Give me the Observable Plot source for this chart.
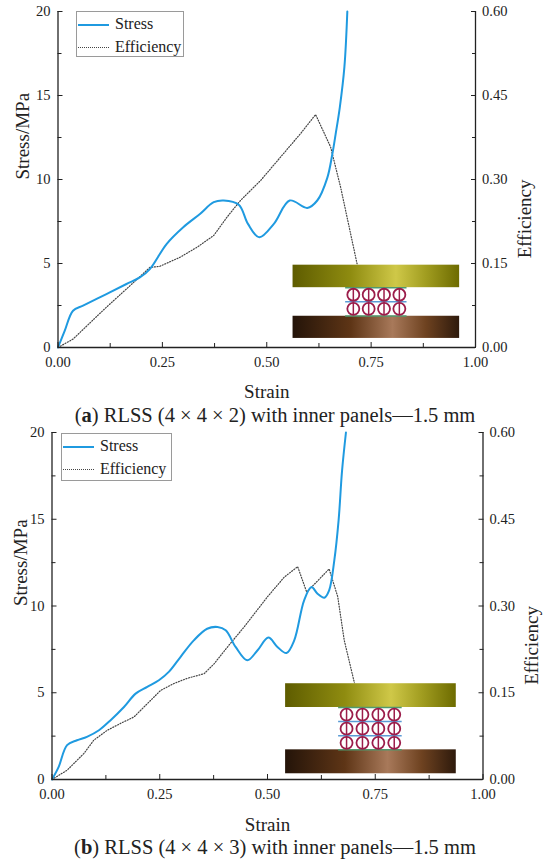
<!DOCTYPE html>
<html>
<head>
<meta charset="utf-8">
<script src="https://cdn.jsdelivr.net/npm/d3@7"></script>
<script src="https://cdn.jsdelivr.net/npm/@observablehq/plot@0.6"></script>
<style>
  html, body { margin: 0; padding: 0; background: #fff; }
  #root { position: relative; width: 550px; height: 865px; font-family: "Liberation Serif", serif; color: #222; }
  #root svg { font-family: "Liberation Serif", serif !important; font-size: 14.5px !important; }
  #root svg text, #root svg g { font-family: "Liberation Serif", serif !important; }
  .panel { position: absolute; left: 0; }
  .legend { position: absolute; border: 1px solid #9a9a9a; background: #fff; box-sizing: border-box; font-size: 16px; font-family: "Liberation Serif", serif; }
  .legend .row { position: absolute; left: 0; height: 20px; line-height: 20px; }
  .legend .sw { position: absolute; left: 1px; width: 31px; top: 10px; }
  .legend .lab { position: absolute; left: 38px; top: 0; white-space: nowrap; }
  .cap { position: absolute; left: 0; width: 550px; text-align: center; font-size: 20.5px; line-height: 20px; }
</style>
</head>
<body>
<div id="root"></div>
<script>
// ---------- data ----------
// Panel (a): RLSS (4×4×2)
const strainStressA = [0,0.016,0.036,0.06,0.116,0.164,0.196,0.22,0.26,0.3,0.34,0.373,0.397,0.433,0.455,0.482,0.517,0.555,0.597,0.621,0.645,0.657,0.665,0.675,0.686,0.693];
const stressA       = [0,0.99,2.19,2.49,3.18,3.78,4.17,4.67,6.16,7.16,7.95,8.65,8.75,8.5,7.36,6.56,7.36,8.75,8.31,8.75,10.1,11.5,12.7,14.3,16.7,20];
const strainEffA    = [0,0.036,0.116,0.172,0.22,0.244,0.292,0.333,0.373,0.405,0.437,0.485,0.533,0.581,0.617,0.653,0.677,0.713,0.725];
const effA          = [0,0.015,0.072,0.11,0.143,0.145,0.161,0.179,0.2,0.233,0.2625,0.298,0.34,0.382,0.416,0.358,0.286,0.161,0.12];
// Panel (b): RLSS (4×4×3)
const strainStressB = [0,0.0155,0.035,0.058,0.081,0.109,0.136,0.167,0.194,0.221,0.248,0.271,0.298,0.329,0.36,0.384,0.403,0.426,0.453,0.477,0.502,0.523,0.544,0.562,0.585,0.602,0.616,0.632,0.643,0.655,0.665,0.673,0.682];
const stressB       = [0,0.73,1.98,2.26,2.46,2.84,3.42,4.18,4.95,5.34,5.72,6.2,7.06,8.02,8.69,8.79,8.6,7.64,6.87,7.45,8.18,7.64,7.29,8.02,10.33,11.09,10.71,10.48,10.9,12.63,14.95,17.8,20];
const strainEffB    = [0,0.035,0.074,0.097,0.128,0.159,0.19,0.221,0.252,0.283,0.314,0.353,0.376,0.407,0.446,0.5,0.539,0.57,0.591,0.643,0.663,0.678,0.702,0.712];
const effB          = [0,0.016,0.045,0.068,0.085,0.097,0.108,0.131,0.154,0.166,0.175,0.183,0.2,0.229,0.264,0.316,0.35,0.368,0.324,0.364,0.316,0.241,0.166,0.13];

// tick labels
const xTicks = [0, 0.25, 0.5, 0.75, 1];
const xMinor = [0.125, 0.375, 0.625, 0.875];
const yTicks = [0, 5, 10, 15, 20];
const yMinor = [2.5, 7.5, 12.5, 17.5];
const effMax = 0.6, stressMax = 20;
const effPerStress = effMax / stressMax;

// inset picture geometry (strain / stress units): plates and lattice
const insetA = {plateX: [0.563, 0.962], top: [3.56, 4.9], bottom: [0.54, 1.86], latX: [0.689, 0.836], latY: [1.88, 3.56], rows: 2, cols: 4};
const insetB = {plateX: [0.542, 0.938], top: [4.15, 5.52], bottom: [0.33, 1.71], latX: [0.665, 0.8125], latY: [1.71, 4.15], rows: 3, cols: 4};

const captions = [
  ["a", "RLSS (4 × 4 × 2) with inner panels—1.5 mm"],
  ["b", "RLSS (4 × 4 × 3) with inner panels—1.5 mm"]
];

const SERIF = "Liberation Serif";
const STRESS_COLOR = "#1f9ae0";
const EFF_COLOR = "#444";

function makePanel(cfg) {
  const S = cfg.strainS.map((x, i) => ({x, y: cfg.stress[i]}));
  const E = cfg.strainE.map((x, i) => ({x, y: cfg.eff[i] / effPerStress}));
  const ins = cfg.inset;
  const cells = [];
  for (let r = 0; r < ins.rows; r++) for (let c = 0; c < ins.cols; c++) {
    cells.push({
      x: ins.latX[0] + (c + 0.5) * (ins.latX[1] - ins.latX[0]) / ins.cols,
      y: ins.latY[0] + (r + 0.5) * (ins.latY[1] - ins.latY[0]) / ins.rows,
      h: (ins.latY[1] - ins.latY[0]) / ins.rows
    });
  }
  const innerLines = d3.range(1, ins.rows).map(r => ins.latY[0] + r * (ins.latY[1] - ins.latY[0]) / ins.rows);
  const gid = cfg.gid;
  const svg = Plot.plot({
    width: 550, height: cfg.height,
    marginTop: cfg.mt, marginBottom: cfg.mb, marginLeft: cfg.ml, marginRight: cfg.mr,
    style: {fontFamily: "'Liberation Serif', serif", fontSize: "14.5px", color: "#222", background: "transparent", overflow: "visible"},
    x: {domain: [0, 1]},
    y: {domain: [0, stressMax]},
    marks: [
      Plot.line(E, {x: "x", y: "y", stroke: EFF_COLOR, strokeWidth: 1.2, strokeDasharray: "1,1.7"}),
      Plot.line(S, {x: "x", y: "y", stroke: STRESS_COLOR, strokeWidth: 2, curve: "catmull-rom"}),
      // inset picture
      Plot.rect([ins], {x1: d => d.plateX[0], x2: d => d.plateX[1], y1: d => d.bottom[0], y2: d => d.top[1], fill: "#fff"}),
      Plot.rect([ins], {x1: d => d.plateX[0], x2: d => d.plateX[1], y1: d => d.top[0], y2: d => d.top[1], fill: `url(#${gid}-top)`}),
      Plot.rect([ins], {x1: d => d.plateX[0], x2: d => d.plateX[1], y1: d => d.bottom[0], y2: d => d.bottom[1], fill: `url(#${gid}-bot)`}),
      Plot.ruleY(innerLines, {x1: ins.latX[0], x2: ins.latX[1], stroke: "#5b9bd5", strokeWidth: 1.5}),
      Plot.ruleY([ins.latY[0], ins.latY[1]], {x1: ins.latX[0], x2: ins.latX[1], stroke: "#4f9a6e", strokeWidth: 1.5}),
      Plot.dot(cells, {x: "x", y: "y", r: 6, stroke: "#9b1d4a", strokeWidth: 1.8, fill: "none"}),
      Plot.ruleX(cells, {x: "x", y1: d => d.y - d.h * 0.42, y2: d => d.y + d.h * 0.42, stroke: "#9b1d4a", strokeWidth: 1.5}),
      // frame lines
      Plot.ruleX([0, 1], {stroke: "#222", strokeWidth: 1.3}),
      Plot.ruleY([0], {stroke: "#222", strokeWidth: 1.3}),
      // axes (inward ticks)
      Plot.axisX({ticks: xTicks, tickFormat: d3.format(".2f"), tickSize: -5, tickPadding: 14, label: null, fontFamily: SERIF, fontSize: 14.5}),
      Plot.axisX({ticks: xMinor, tickFormat: () => "", tickSize: -4, label: null}),
      Plot.axisY({anchor: "left", ticks: yTicks, tickFormat: d => String(d), tickSize: -5, tickPadding: 12.5, label: null, fontFamily: SERIF, fontSize: 14.5}),
      Plot.axisY({anchor: "left", ticks: yMinor, tickFormat: () => "", tickSize: -4, label: null}),
      Plot.axisY({anchor: "right", ticks: yTicks, tickFormat: d => (d * effPerStress).toFixed(2), tickSize: -5, tickPadding: 11.5, label: null, fontFamily: SERIF, fontSize: 14.5}),
      Plot.axisY({anchor: "right", ticks: yMinor, tickFormat: () => "", tickSize: -4, label: null}),
      // axis titles
      Plot.text(["Strain"], {text: d => d, frameAnchor: "bottom", dy: cfg.strainDy, lineAnchor: "middle", fontSize: 19, fontFamily: SERIF}),
      Plot.text(["Stress/MPa"], {text: d => d, frameAnchor: "left", dx: cfg.stressDx, rotate: -90, lineAnchor: "middle", fontSize: 19, fontFamily: SERIF}),
      Plot.text(["Efficiency"], {text: d => d, frameAnchor: "right", dx: 49, rotate: -90, lineAnchor: "middle", fontSize: 19, fontFamily: SERIF})
    ]
  });
  // gradients for the inset plates
  const ns = "http://www.w3.org/2000/svg";
  const defs = document.createElementNS(ns, "defs");
  const grads = [
    [`${gid}-top`, [[0, "#5e5c00"], [0.35, "#8f8c10"], [0.62, "#cfc848"], [0.8, "#a19d20"], [1, "#6d6b00"]]],
    [`${gid}-bot`, [[0, "#241409"], [0.35, "#5e3516"], [0.6, "#a8795a"], [0.8, "#6e4220"], [1, "#2e1a0c"]]]
  ];
  for (const [id, stops] of grads) {
    const g = document.createElementNS(ns, "linearGradient");
    g.setAttribute("id", id);
    g.setAttribute("x1", "0"); g.setAttribute("x2", "1"); g.setAttribute("y1", "0"); g.setAttribute("y2", "0");
    for (const [o, c] of stops) {
      const s = document.createElementNS(ns, "stop");
      s.setAttribute("offset", o); s.setAttribute("stop-color", c);
      g.appendChild(s);
    }
    defs.appendChild(g);
  }
  svg.insertBefore(defs, svg.firstChild);
  return svg;
}

function legend(left, top, w, h) {
  const d = document.createElement("div");
  d.className = "legend";
  Object.assign(d.style, {left: left + "px", top: top + "px", width: w + "px", height: h + "px"});
  const items = [["Stress", `border-top: 2px solid ${STRESS_COLOR}`], ["Efficiency", `border-top: 1.3px dotted ${EFF_COLOR}`]];
  items.forEach(([t, st], i) => {
    const r = document.createElement("div");
    r.className = "row";
    r.style.top = (2 + i * 23.4) + "px";
    r.innerHTML = `<div class="sw" style="${st}"></div><div class="lab">${t}</div>`;
    d.appendChild(r);
  });
  return d;
}

const root = document.getElementById("root");

const pa = document.createElement("div");
pa.className = "panel"; pa.style.top = "0px";
pa.appendChild(makePanel({strainS: strainStressA, stress: stressA, strainE: strainEffA, eff: effA, inset: insetA,
  height: 400, mt: 11, mb: 53, ml: 57.5, mr: 75, strainDy: 44, stressDx: -35, gid: "ga"}));
root.appendChild(pa);

const pb = document.createElement("div");
pb.className = "panel"; pb.style.top = "420px";
pb.appendChild(makePanel({strainS: strainStressB, stress: stressB, strainE: strainEffB, eff: effB, inset: insetB,
  height: 419, mt: 12, mb: 60, ml: 51.5, mr: 67.5, strainDy: 45, stressDx: -31, gid: "gb"}));
root.appendChild(pb);

root.appendChild(legend(76, 11, 108, 46));
root.appendChild(legend(61, 433, 111, 48));

[[405, 0], [837, 1]].forEach(([top, i]) => {
  const c = document.createElement("div");
  c.className = "cap"; c.style.top = top + "px";
  c.innerHTML = `(<b>${captions[i][0]}</b>) ${captions[i][1]}`;
  root.appendChild(c);
});
</script>
</body>
</html>
